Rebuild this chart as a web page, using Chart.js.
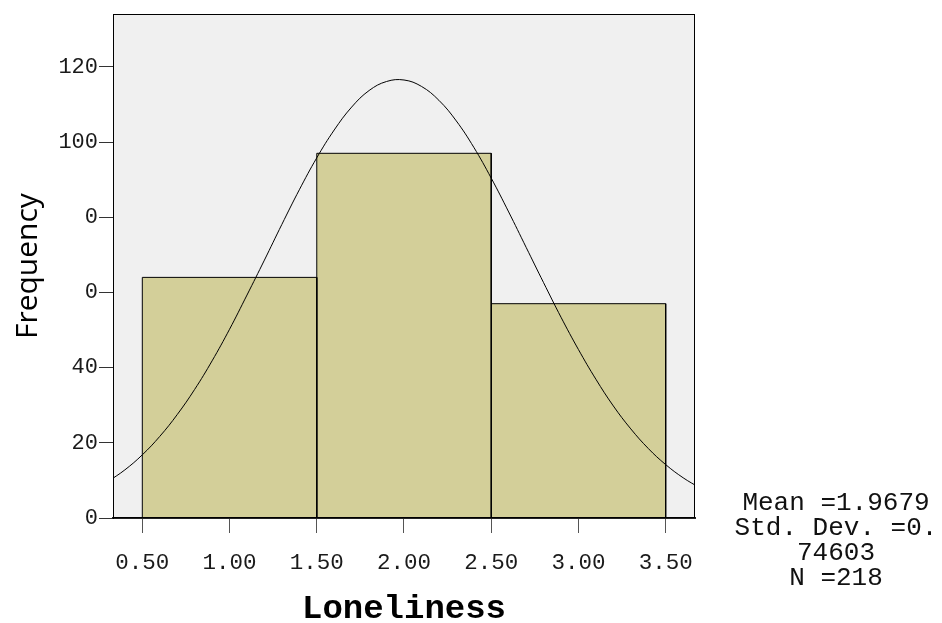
<!DOCTYPE html>
<html><head><meta charset="utf-8">
<script src="https://cdn.jsdelivr.net/npm/chart.js@4.4.1/dist/chart.umd.min.js"></script>
<style>html,body{margin:0;padding:0;background:#fff;}#wrap{width:942px;height:623px;}</style>
</head><body><div id="wrap"><canvas id="c" width="942" height="623"></canvas></div>
<script>
const binEdges = [0.5, 1.5, 2.5, 3.5];
const binCounts = [64, 97, 57];
const xTickValues = [0.5, 1.0, 1.5, 2.0, 2.5, 3.0, 3.5];
const xTickLabels = ["0.50", "1.00", "1.50", "2.00", "2.50", "3.00", "3.50"];
const yTickValues = [0, 20, 40, 60, 80, 100, 120];
const yTickLabels = ["0", "20", "40", "0", "0", "100", "120"];
const curveX = [0.3,0.4,0.5,0.6,0.7,0.8,0.9,1.0,1.1,1.2,1.3,1.4,1.5,1.6,1.7,1.8,1.9,2.0,2.1,2.2,2.3,2.4,2.5,2.6,2.7,2.8,2.9,3.0,3.1,3.2,3.3,3.4,3.5,3.6,3.7];
const curveY = [9.6,12.8,16.8,21.7,27.5,34.2,41.8,50.2,59.3,68.6,78.1,87.3,95.8,103.2,109.3,113.7,116.1,116.5,114.8,111.1,105.6,98.6,90.4,81.4,72.0,62.6,53.4,44.8,36.9,29.8,23.7,18.5,14.2,10.7,7.9];
const statsLines = ["Mean =1.9679", "Std. Dev. =0.", "74603", "N =218"];
const xTitle = "Loneliness";
const yTitle = "Frequency";
const xMin = 0.332, xMax = 3.668, yMin = 0, yMax = 134;

const mono = "'Liberation Mono', 'Courier New', monospace";

const plotPlugin = {
  id: 'plotBg',
  beforeDraw(chart) {
    const a = chart.chartArea, ctx = chart.ctx;
    ctx.save();
    ctx.fillStyle = '#F0F0F0';
    ctx.fillRect(a.left, a.top, a.right - a.left, a.bottom - a.top);
    ctx.restore();
  },
  afterDraw(chart) {
    const a = chart.chartArea, ctx = chart.ctx;
    ctx.save();
    ctx.strokeStyle = '#000';
    ctx.lineWidth = 1;
    ctx.strokeRect(Math.round(a.left) + 0.5, Math.round(a.top) + 0.5, Math.round(a.right - a.left) - 1, Math.round(a.bottom - a.top) - 1);
    ctx.fillStyle = '#111';
    ctx.font = "26px " + mono;
    ctx.textAlign = 'center';
    ctx.textBaseline = 'alphabetic';
    const cx = a.right + 141;
    statsLines.forEach((t, i) => ctx.fillText(t, cx, a.bottom - 8 + i * 25));
    ctx.restore();
  }
};

// one filled outline per histogram bin, built from the bin edges and counts
const barDatasets = binCounts.map((c, i) => ({
  type: 'line',
  data: [
    { x: binEdges[i], y: 0 },
    { x: binEdges[i], y: c },
    { x: binEdges[i + 1], y: c },
    { x: binEdges[i + 1], y: 0 }
  ],
  borderColor: '#000',
  borderWidth: 1,
  backgroundColor: '#D3CF99',
  fill: 'origin',
  tension: 0,
  pointRadius: 0,
  order: 1
}));

new Chart(document.getElementById('c'), {
  data: {
    datasets: [
      {
        type: 'line',
        data: curveX.map((x, i) => ({ x: x, y: curveY[i] })),
        borderColor: '#000',
        borderWidth: 1,
        pointRadius: 0,
        tension: 0.4,
        fill: false,
        order: 0
      },
      ...barDatasets
    ]
  },
  options: {
    responsive: false,
    animation: false,
    devicePixelRatio: 1,
    layout: { padding: { left: 0, right: 247, top: 14, bottom: 0 } },
    plugins: { legend: { display: false }, tooltip: { enabled: false } },
    scales: {
      x: {
        type: 'linear', position: 'bottom', min: xMin, max: xMax,
        afterBuildTicks(s) { s.ticks = xTickValues.map(v => ({ value: v })); },
        afterFit(s) { s.height = 105; },
        ticks: {
          autoSkip: false, maxRotation: 0, padding: 17, color: '#1a1a1a',
          font: { family: mono, size: 22.5 },
          callback(v) { const i = xTickValues.indexOf(v); return i >= 0 ? xTickLabels[i] : ''; }
        },
        grid: { drawOnChartArea: false, tickLength: 15, color: '#555' },
        border: { display: true, color: '#222', width: 2 },
        title: { display: true, text: xTitle, color: '#000', padding: { top: 0, bottom: -3 }, font: { family: mono, size: 34, weight: 'bold', lineHeight: 1 } }
      },
      y: {
        type: 'linear', position: 'left', min: yMin, max: yMax,
        afterBuildTicks(s) { s.ticks = yTickValues.map(v => ({ value: v })); },
        afterFit(s) { s.width = 113; },
        ticks: {
          autoSkip: false, padding: 1, color: '#1a1a1a',
          font: { family: mono, size: 22 },
          callback(v) { const i = yTickValues.indexOf(v); return i >= 0 ? yTickLabels[i] : ''; }
        },
        grid: { drawOnChartArea: false, tickLength: 14, color: '#333' },
        border: { display: true, color: '#000', width: 1 },
        title: { display: true, text: yTitle, color: '#000', padding: { top: 13, bottom: 0 }, font: { family: "'Open Sans', 'Noto Sans', sans-serif", size: 30, lineHeight: 1 } }
      }
    }
  },
  plugins: [plotPlugin]
});
</script>
</body></html>
